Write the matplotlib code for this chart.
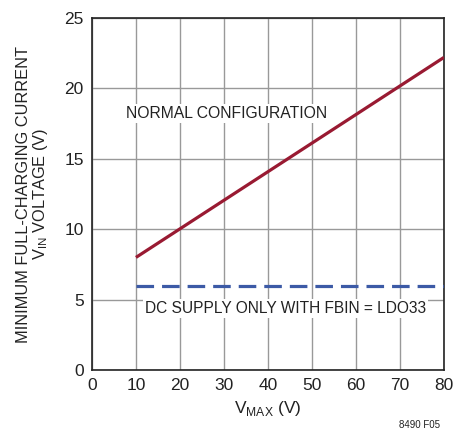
import matplotlib
matplotlib.use("Agg")
import matplotlib.pyplot as plt

# data
vmax_normal = [10, 80]
vin_normal = [8.0, 22.2]
vmax_dc = [10, 80]
vin_dc = [6.0, 6.0]

x_ticks = [0, 10, 20, 30, 40, 50, 60, 70, 80]
y_ticks = [0, 5, 10, 15, 20, 25]

plt.rcParams['font.family'] = ['Liberation Sans', 'DejaVu Sans']
plt.rcParams['mathtext.fontset'] = 'custom'
plt.rcParams['mathtext.rm'] = 'Liberation Sans'

fig = plt.figure(figsize=(4.53, 4.38), dpi=100)
ax = fig.add_axes([0.203, 0.155, 0.777, 0.804])

ax.plot(vmax_normal, vin_normal, color='#991a32', lw=2.3, solid_capstyle='butt', zorder=3)
ax.plot(vmax_dc, vin_dc, color='#3c5aa6', lw=2.3, dashes=(5.5, 2.5), zorder=3)

ax.set_xlim(0, 80)
ax.set_ylim(0, 25)
ax.set_xticks(x_ticks)
ax.set_yticks(y_ticks)
ax.tick_params(length=0, labelsize=12.5, pad=6, colors='#222222')
ax.grid(True, color='#999999', lw=1)
ax.set_axisbelow(True)
for s in ax.spines.values():
    s.set_color('#222222')
    s.set_linewidth(1.2)

ax.text(7.7, 18.2, 'NORMAL CONFIGURATION', fontsize=11.3, color='#222222', va='center',
        bbox=dict(facecolor='white', edgecolor='none', pad=1.5), zorder=4)
ax.text(12.0, 4.4, 'DC SUPPLY ONLY WITH FBIN = LDO33', fontsize=11.2, color='#222222', va='center',
        bbox=dict(facecolor='white', edgecolor='none', pad=1.5), zorder=4)

ax.set_xlabel(r'V$_{\mathregular{MAX}}$ (V)', fontsize=12.5, color='#222222', labelpad=4)
ax.set_ylabel('MINIMUM FULL-CHARGING CURRENT\n' + r'V$_{\mathregular{IN}}$ VOLTAGE (V)',
              fontsize=11.8, color='#222222', labelpad=10, linespacing=1.0)

fig.text(0.972, 0.022, '8490 F05', fontsize=7, color='#222222', ha='right')

fig.savefig('out.png', dpi=100, facecolor='white')
